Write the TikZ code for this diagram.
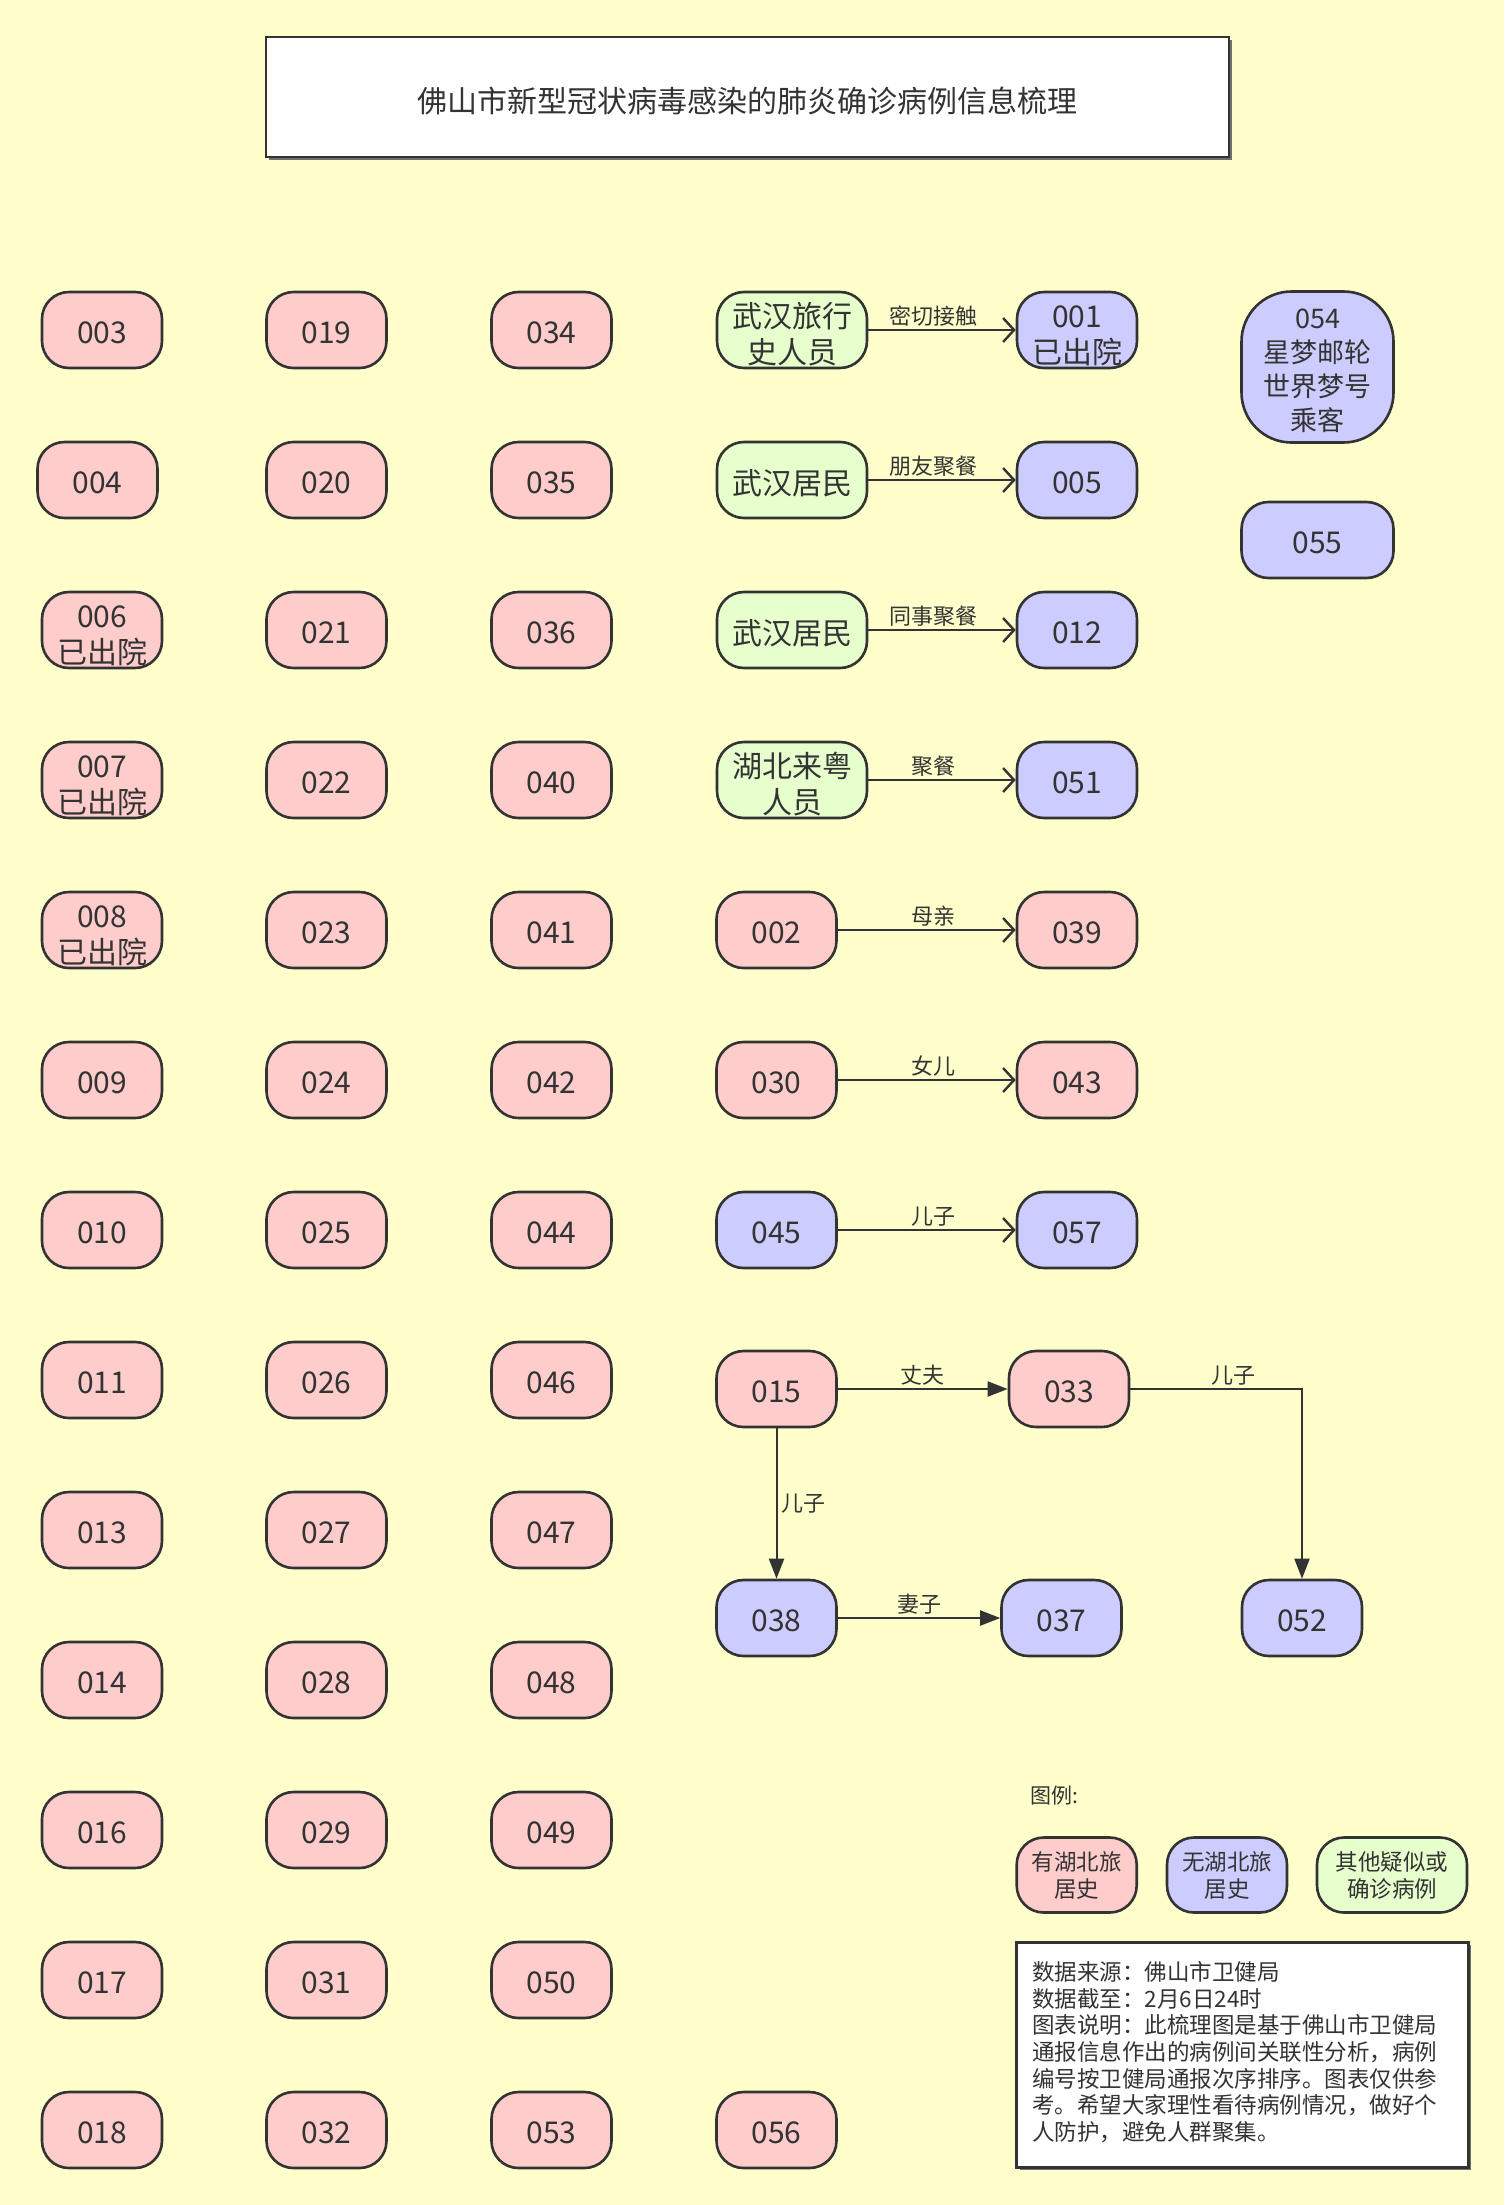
\documentclass[tikz,border=0pt]{standalone}
\usepackage{fontspec}
\setmainfont{Noto Sans CJK SC}
\usetikzlibrary{arrows.meta}
\definecolor{bgc}{HTML}{FFFFCC}
\definecolor{pinkc}{HTML}{FFCCCC}
\definecolor{bluec}{HTML}{CCCCFF}
\definecolor{greenc}{HTML}{E6FFCC}
\definecolor{lc}{HTML}{333333}
\definecolor{tc}{HTML}{333333}
\newcommand{\topstrut}[1]{\rule{0pt}{#1}}
\tikzset{
  case/.style={draw=lc, line width=2.6pt, rounded corners=27pt, minimum width=120pt,
    minimum height=76pt, inner sep=0pt, align=center, text=tc,
    font=\fontsize{30}{36}\selectfont},
  pk/.style={case, fill=pinkc},
  bl/.style={case, fill=bluec},
  gr/.style={case, fill=greenc, minimum width=150pt},
  lgd/.style={case, minimum height=75pt, font=\fontsize{22.5}{27}\selectfont},
  lbl/.style={font=\fontsize{22}{26}\selectfont, text=tc, inner sep=2pt},
  rel/.style={draw=lc, line width=2pt, -{Straight Barb[length=11pt,width=24pt,line width=2.4pt]}},
  fam/.style={draw=lc, line width=2pt, -{Triangle[length=20pt,width=15pt]}},
  frame/.style={draw=lc, line width=2.6pt, fill=white},
}
\begin{document}
\begin{tikzpicture}[x=1pt,y=-1pt]
\fill[bgc] (0,0) rectangle (1504,2205);
\useasboundingbox (0,0) rectangle (1504,2205);

% title
\fill[lc!70] (269,40) rectangle (1232,160);
\node[frame, minimum width=963pt, minimum height=120pt, inner sep=0pt, text=tc,
  font=\fontsize{30}{36}\selectfont] (title) at (747.5,97) {\topstrut{33pt}佛山市新型冠状病毒感染的肺炎确诊病例信息梳理};

% column 1
\node[pk] (n003) at (102,330) {\topstrut{28pt}003};
\node[pk] (n004) at (97.5,480) {\topstrut{28pt}004};
\node[pk] (n006) at (102,630) {\topstrut{33pt}006\\已出院};
\node[pk] (n007) at (102,780) {\topstrut{33pt}007\\已出院};
\node[pk] (n008) at (102,930) {\topstrut{33pt}008\\已出院};
\node[pk] (n009) at (102,1080) {\topstrut{28pt}009};
\node[pk] (n010) at (102,1230) {\topstrut{28pt}010};
\node[pk] (n011) at (102,1380) {\topstrut{28pt}011};
\node[pk] (n013) at (102,1530) {\topstrut{28pt}013};
\node[pk] (n014) at (102,1680) {\topstrut{28pt}014};
\node[pk] (n016) at (102,1830) {\topstrut{28pt}016};
\node[pk] (n017) at (102,1980) {\topstrut{28pt}017};
\node[pk] (n018) at (102,2130) {\topstrut{28pt}018};

% column 2
\node[pk] (n019) at (326.5,330) {\topstrut{28pt}019};
\node[pk] (n020) at (326.5,480) {\topstrut{28pt}020};
\node[pk] (n021) at (326.5,630) {\topstrut{28pt}021};
\node[pk] (n022) at (326.5,780) {\topstrut{28pt}022};
\node[pk] (n023) at (326.5,930) {\topstrut{28pt}023};
\node[pk] (n024) at (326.5,1080) {\topstrut{28pt}024};
\node[pk] (n025) at (326.5,1230) {\topstrut{28pt}025};
\node[pk] (n026) at (326.5,1380) {\topstrut{28pt}026};
\node[pk] (n027) at (326.5,1530) {\topstrut{28pt}027};
\node[pk] (n028) at (326.5,1680) {\topstrut{28pt}028};
\node[pk] (n029) at (326.5,1830) {\topstrut{28pt}029};
\node[pk] (n031) at (326.5,1980) {\topstrut{28pt}031};
\node[pk] (n032) at (326.5,2130) {\topstrut{28pt}032};

% column 3
\node[pk] (n034) at (551.5,330) {\topstrut{28pt}034};
\node[pk] (n035) at (551.5,480) {\topstrut{28pt}035};
\node[pk] (n036) at (551.5,630) {\topstrut{28pt}036};
\node[pk] (n040) at (551.5,780) {\topstrut{28pt}040};
\node[pk] (n041) at (551.5,930) {\topstrut{28pt}041};
\node[pk] (n042) at (551.5,1080) {\topstrut{28pt}042};
\node[pk] (n044) at (551.5,1230) {\topstrut{28pt}044};
\node[pk] (n046) at (551.5,1380) {\topstrut{28pt}046};
\node[pk] (n047) at (551.5,1530) {\topstrut{28pt}047};
\node[pk] (n048) at (551.5,1680) {\topstrut{28pt}048};
\node[pk] (n049) at (551.5,1830) {\topstrut{28pt}049};
\node[pk] (n050) at (551.5,1980) {\topstrut{28pt}050};
\node[pk] (n053) at (551.5,2130) {\topstrut{28pt}053};
\node[pk] (n056) at (776.5,2130) {\topstrut{28pt}056};

% related pairs
\node[gr] (g1) at (792,330) {\topstrut{33pt}武汉旅行\\史人员};
\node[bl] (n001) at (1077,330) {\topstrut{33pt}001\\已出院};
\node[gr] (g2) at (792,480) {\topstrut{31pt}武汉居民};
\node[bl] (n005) at (1077,480) {\topstrut{28pt}005};
\node[gr] (g3) at (792,630) {\topstrut{31pt}武汉居民};
\node[bl] (n012) at (1077,630) {\topstrut{28pt}012};
\node[gr] (g4) at (792,780) {\topstrut{33pt}湖北来粤\\人员};
\node[bl] (n051) at (1077,780) {\topstrut{28pt}051};
\node[pk] (n002) at (776.5,930) {\topstrut{28pt}002};
\node[pk] (n039) at (1077,930) {\topstrut{28pt}039};
\node[pk] (n030) at (776.5,1080) {\topstrut{28pt}030};
\node[pk] (n043) at (1077,1080) {\topstrut{28pt}043};
\node[bl] (n045) at (776.5,1230) {\topstrut{28pt}045};
\node[bl] (n057) at (1077,1230) {\topstrut{28pt}057};

\draw[rel] (g1) -- node[lbl, pos=0.44, above=1pt] {密切接触} (n001);
\draw[rel] (g2) -- node[lbl, pos=0.44, above=1pt] {朋友聚餐} (n005);
\draw[rel] (g3) -- node[lbl, pos=0.44, above=1pt] {同事聚餐} (n012);
\draw[rel] (g4) -- node[lbl, pos=0.44, above=1pt] {聚餐} (n051);
\draw[rel] (n002) -- node[lbl, pos=0.54, above=1pt] {母亲} (n039);
\draw[rel] (n030) -- node[lbl, pos=0.54, above=1pt] {女儿} (n043);
\draw[rel] (n045) -- node[lbl, pos=0.54, above=1pt] {儿子} (n057);

% cruise
\node[bl, minimum width=152pt, minimum height=151pt, rounded corners=50pt,
  font=\fontsize{27}{34}\selectfont] (n054) at (1317.5,367) {\topstrut{27pt}054\\星梦邮轮\\世界梦号\\乘客};
\node[bl, minimum width=152pt] (n055) at (1317.5,540) {\topstrut{28pt}055};

% family cluster
\node[pk] (n015) at (776.5,1389) {\topstrut{28pt}015};
\node[pk] (n033) at (1069,1389) {\topstrut{28pt}033};
\node[bl] (n038) at (776.5,1618) {\topstrut{28pt}038};
\node[bl] (n037) at (1061.5,1618) {\topstrut{28pt}037};
\node[bl] (n052) at (1302,1618) {\topstrut{28pt}052};

\draw[fam] (n015) -- node[lbl, above=1pt] {丈夫} (n033);
\draw[fam] (n033) -| node[lbl, pos=0.3, above=1pt] {儿子} (n052);
\draw[fam] (n015) -- node[lbl, right=2pt] {儿子} (n038);
\draw[fam] (n038) -- node[lbl, above=1pt] {妻子} (n037);

% legend
\node[lbl, anchor=west, font=\fontsize{21}{25}\selectfont] (lgdtitle) at (1028,1796) {图例:};
\node[lgd, fill=pinkc] (l1) at (1076.7,1875) {有湖北旅\\居史};
\node[lgd, fill=bluec] (l2) at (1227,1875) {无湖北旅\\居史};
\node[lgd, fill=greenc, minimum width=150pt] (l3) at (1392,1875) {其他疑似或\\确诊病例};

% note
\fill[lc!70] (1019.5,1945) rectangle (1471,2170);
\node[frame, minimum width=451.6pt, minimum height=225pt, inner sep=0pt] (note) at (1242.5,2054.8) {};
\node[anchor=north west, align=left, inner sep=0pt, text=tc,
  font=\fontsize{22.5}{26.7}\selectfont] (notetext) at (1032,1961) {数据来源：佛山市卫健局\\数据截至：2月6日24时\\图表说明：此梳理图是基于佛山市卫健局\\通报信息作出的病例间关联性分析，病例\\编号按卫健局通报次序排序。图表仅供参\\考。希望大家理性看待病例情况，做好个\\人防护，避免人群聚集。};
\end{tikzpicture}
\end{document}
